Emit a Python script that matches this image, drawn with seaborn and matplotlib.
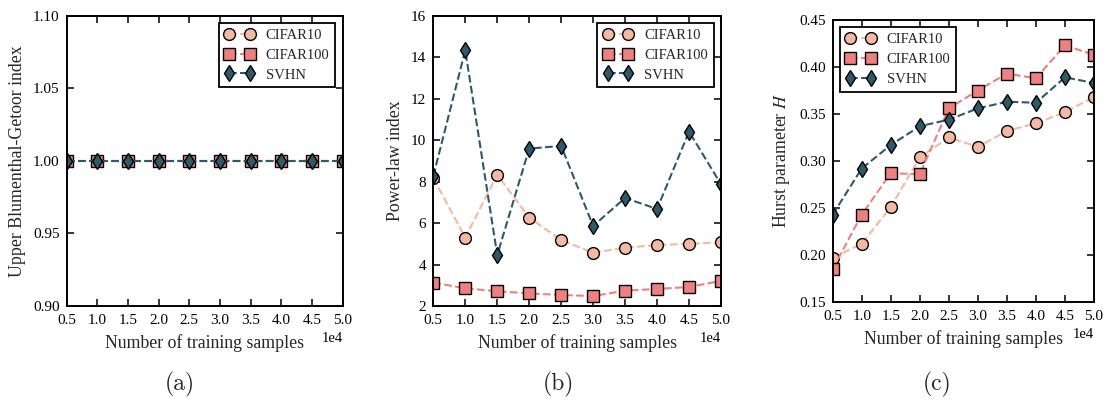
import numpy as np
import pandas as pd
import matplotlib
matplotlib.use("Agg")
import matplotlib.pyplot as plt
import seaborn as sns

# Training-set sizes
samples = [5000, 10000, 15000, 20000, 25000, 30000, 35000, 40000, 45000, 50000]
datasets = ["CIFAR10", "CIFAR100", "SVHN"]

# (a) Upper Blumenthal-Getoor index
bg_cifar10 = [1.0, 1.0, 1.0, 1.0, 1.0, 1.0, 1.0, 1.0, 1.0, 1.0]
bg_cifar100 = [1.0, 1.0, 1.0, 1.0, 1.0, 1.0, 1.0, 1.0, 1.0, 1.0]
bg_svhn = [1.0, 1.0, 1.0, 1.0, 1.0, 1.0, 1.0, 1.0, 1.0, 1.0]

# (b) Power-law index
pl_cifar10 = [8.17, 5.3, 8.33, 6.26, 5.18, 4.57, 4.81, 4.94, 5.0, 5.07]
pl_cifar100 = [3.13, 2.85, 2.71, 2.61, 2.53, 2.48, 2.74, 2.82, 2.92, 3.21]
pl_svhn = [8.27, 14.33, 4.46, 9.59, 9.72, 5.86, 7.21, 6.68, 10.41, 7.87]

# (c) Hurst parameter
h_cifar10 = [0.197, 0.212, 0.251, 0.304, 0.325, 0.315, 0.332, 0.340, 0.352, 0.368]
h_cifar100 = [0.185, 0.243, 0.287, 0.286, 0.356, 0.375, 0.393, 0.388, 0.423, 0.413]
h_svhn = [0.243, 0.292, 0.317, 0.337, 0.344, 0.356, 0.363, 0.362, 0.389, 0.383]

colors = {"CIFAR10": "#f4b9a2", "CIFAR100": "#f08080", "SVHN": "#2c5a6b"}
markers = {"CIFAR10": "o", "CIFAR100": "s", "SVHN": "d"}

sns.set_style("ticks")
plt.rcParams.update({
    "font.family": ["Liberation Serif", "DejaVu Serif"],
    "mathtext.fontset": "stix",
    "xtick.direction": "in",
    "ytick.direction": "in",
    "xtick.top": True,
    "ytick.right": True,
    "xtick.major.size": 5,
    "ytick.major.size": 5,
    "xtick.major.width": 1.1,
    "ytick.major.width": 1.1,
    "xtick.major.pad": 6,
    "ytick.major.pad": 5,
    "axes.linewidth": 1.4,
    "axes.edgecolor": "black",
    "xtick.color": "black",
    "ytick.color": "black",
    "xtick.labelsize": 11,
    "ytick.labelsize": 11,
    "axes.labelsize": 12.8,
    "axes.labelpad": 5,
})

fig = plt.figure(figsize=(11.04, 4.09), dpi=100)
W, H = 1104, 409


def add_axes_px(left, right, top, bottom):
    return fig.add_axes([left / W, 1 - bottom / H, (right - left) / W, (bottom - top) / H])


panels = [
    (add_axes_px(66.7, 342.7, 15.7, 306), [bg_cifar10, bg_cifar100, bg_svhn],
     "Upper Blumenthal-Getoor index", (0.90, 1.10), np.arange(0.90, 1.101, 0.05), "%.2f", "upper right"),
    (add_axes_px(433.3, 721, 15.7, 306), [pl_cifar10, pl_cifar100, pl_svhn],
     "Power-law index", (2, 16), np.arange(2, 17, 2), "%d", "upper right"),
    (add_axes_px(832.7, 1094, 20, 302), [h_cifar10, h_cifar100, h_svhn],
     "Hurst parameter $H$", (0.15, 0.45), np.arange(0.15, 0.451, 0.05), "%.2f", "upper left"),
]

for ax, series, ylabel, ylim, yticks, yfmt, loc in panels:
    for name, vals in zip(datasets, series):
        df = pd.DataFrame({"samples": samples, "value": vals})
        sns.lineplot(data=df, x="samples", y="value", ax=ax, label=name,
                     color=colors[name], marker=markers[name], markersize=8.5,
                     markerfacecolor=colors[name], markeredgecolor="black",
                     markeredgewidth=1.0, linestyle="--", linewidth=1.5)
    ax.set_xlim(5000, 50000)
    ax.set_xticks(samples)
    ax.ticklabel_format(axis="x", style="sci", scilimits=(0, 0))
    ax.xaxis.get_offset_text().set_fontsize(10.5)
    ax.set_ylim(*ylim)
    ax.set_yticks(yticks)
    ax.yaxis.set_major_formatter(matplotlib.ticker.FormatStrFormatter(yfmt))
    ax.set_xlabel("Number of training samples")
    ax.set_ylabel(ylabel)
    for s in ax.spines.values():
        s.set_visible(True)
    leg = ax.legend(loc=loc, numpoints=2, fontsize=10.5, frameon=True, fancybox=False,
                    edgecolor="black", framealpha=1.0, handlelength=2.0,
                    borderaxespad=0.5, labelspacing=0.45, handletextpad=0.8,
                    borderpad=0.4)
    leg.get_frame().set_linewidth(1.3)

# Sub-figure captions
for x_px, cap in [(180, "(a)"), (558, "(b)"), (937, "(c)")]:
    fig.text(x_px / W, 1 - 384 / H, cap, ha="center", va="center",
             fontsize=17, family="cmr10")

fig.savefig("out.png", dpi=100)
